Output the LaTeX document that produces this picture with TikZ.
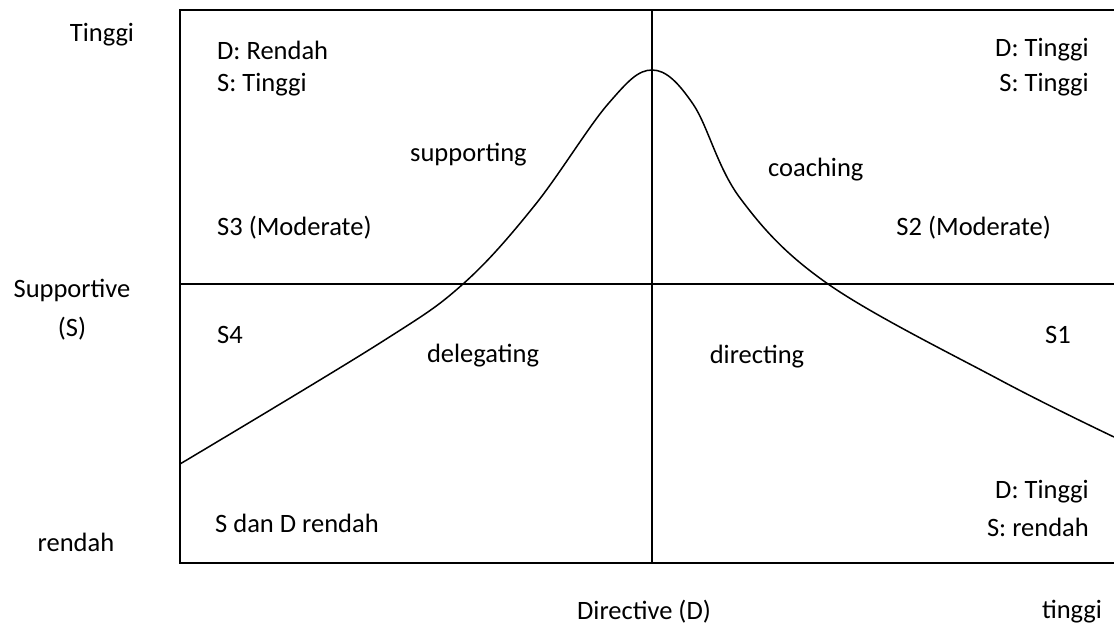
\documentclass[tikz,border=0pt]{standalone}
\usepackage{fontspec}
\setmainfont{Carlito}
\begin{document}
\begin{tikzpicture}[x=1pt,y=-1pt,
  lbl/.style={inner sep=0pt,font=\fontsize{26.5}{31}\selectfont},
  lline/.style={line width=1.6pt},
  curveline/.style={line width=1.5pt,line join=round}]
\useasboundingbox (0,0) rectangle (1114,628);
% frame
\coordinate (TL) at (180,10);
\coordinate (TR) at (1114,10);
\coordinate (BL) at (180,563);
\coordinate (BR) at (1114,563);
\coordinate (MT) at (652,10);
\coordinate (MB) at (652,563);
\coordinate (HL) at (180,284);
\coordinate (HR) at (1114,284);
\draw[lline] (TR) -- (TL) -- (BL) -- (BR);
\draw[lline] (MT) -- (MB);
\draw[lline] (HL) -- (HR);
% curve
\draw[curveline] plot[smooth,tension=0.6] coordinates {
 (180,464) (380,343) (463,284) (535,205) (608,104) (652,70)
 (693,104) (740,198) (828,284) (1000,380) (1114,437)};
% axis labels
\node[lbl] (ytop) at (102,35) {Tinggi};
\node[lbl] (ymid) at (72,290) {Supportive};
\node[lbl] (ymid2) at (72,329) {(S)};
\node[lbl] (ybot) at (76,542) {rendah};
\node[lbl] (xmid) at (644,612) {Directive (D)};
\node[lbl] (xright) at (1072,612) {tinggi};
% quadrant texts
\node[lbl,anchor=west] (q3a) at (217,50) {D: Rendah};
\node[lbl,anchor=west] (q3b) at (217,85) {S: Tinggi};
\node[lbl,anchor=east] (q2a) at (1089,50) {D: Tinggi};
\node[lbl,anchor=east] (q2b) at (1089,85) {S: Tinggi};
\node[lbl,anchor=west] (sup) at (410,155) {supporting};
\node[lbl,anchor=west] (coa) at (768,170) {coaching};
\node[lbl,anchor=west] (s3) at (217,228) {S3 (Moderate)};
\node[lbl,anchor=east] (s2) at (1051,228) {S2 (Moderate)};
\node[lbl,anchor=west] (s4) at (217,335) {S4};
\node[lbl] (del) at (483,356) {delegating};
\node[lbl] (dir) at (757,357) {directing};
\node[lbl,anchor=east] (s1) at (1071,335) {S1};
\node[lbl,anchor=east] (q1a) at (1089,492) {D: Tinggi};
\node[lbl,anchor=east] (q1b) at (1089,527) {S: rendah};
\node[lbl,anchor=west] (q4) at (215,523) {S dan D rendah};
\end{tikzpicture}
\end{document}
